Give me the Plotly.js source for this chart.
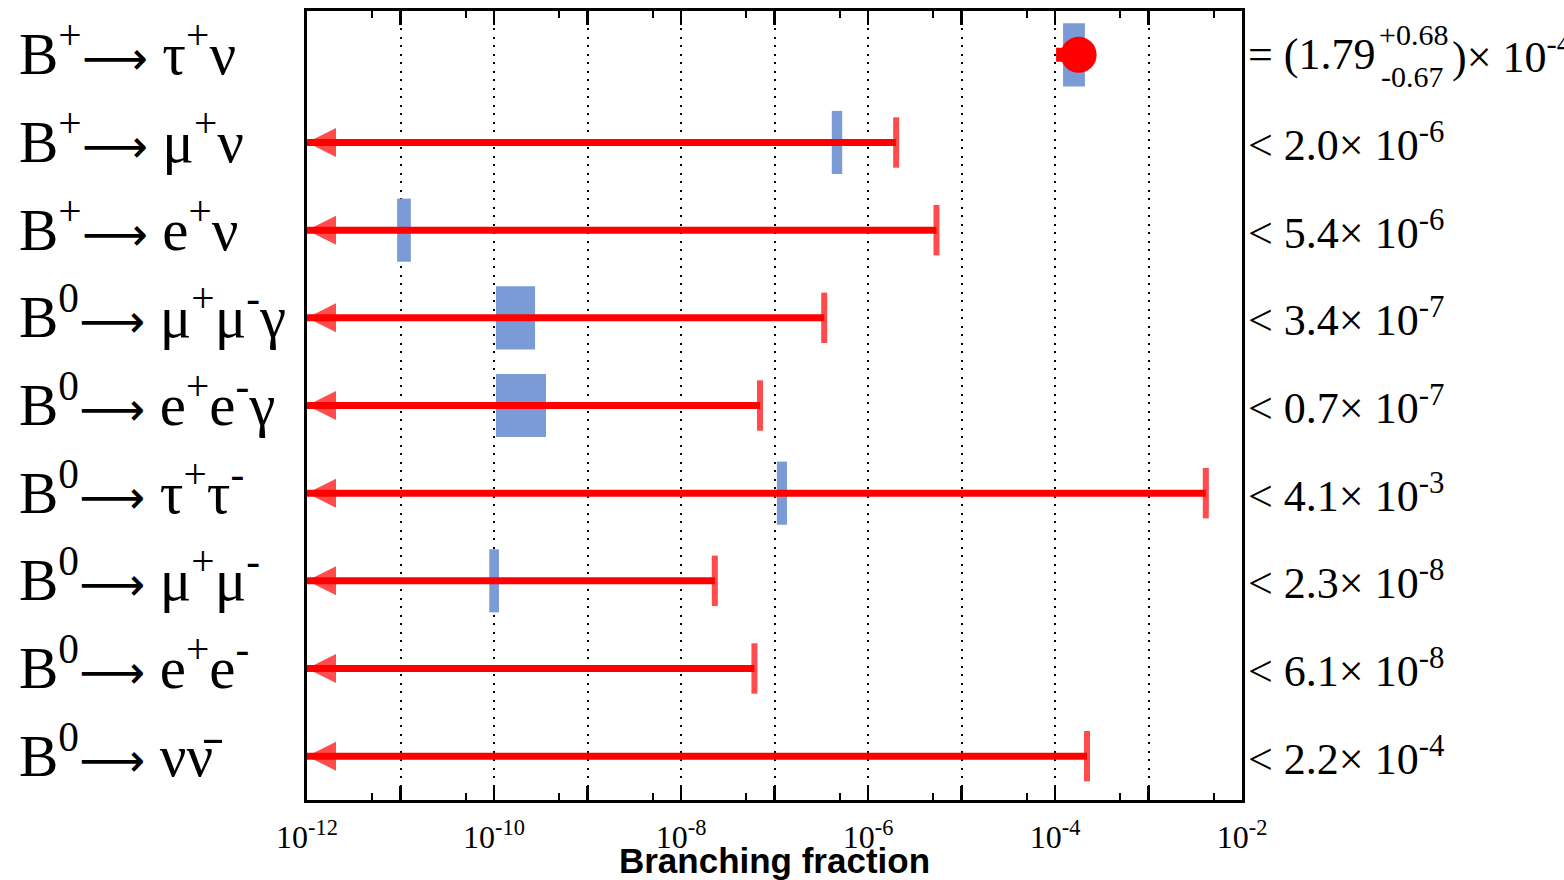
<!DOCTYPE html>
<html>
<head>
<meta charset="utf-8">
<script src="https://cdn.plot.ly/plotly-3.0.1.min.js"></script>
<style>
html,body{margin:0;padding:0;background:#fff;overflow:hidden;}
#chart{width:1564px;height:880px;}
</style>
</head>
<body>
<div id="chart"></div>
<script>
// ---- data ----
const parents = ["B<sup>+</sup>", "B<sup>+</sup>", "B<sup>+</sup>", "B<sup>0</sup>", "B<sup>0</sup>",
                 "B<sup>0</sup>", "B<sup>0</sup>", "B<sup>0</sup>", "B<sup>0</sup>"];
const products = [
  "τ<sup>+</sup>ν",
  "μ<sup>+</sup>ν",
  "e<sup>+</sup>ν",
  "μ<sup>+</sup>μ<sup>-</sup>γ",
  "e<sup>+</sup>e<sup>-</sup>γ",
  "τ<sup>+</sup>τ<sup>-</sup>",
  "μ<sup>+</sup>μ<sup>-</sup>",
  "e<sup>+</sup>e<sup>-</sup>",
  "νν\u0304"
];
// upper limits (null = measured)
const upperLimits = [null, 2.0e-6, 5.4e-6, 3.4e-7, 0.7e-7, 4.1e-3, 2.3e-8, 6.1e-8, 2.2e-4];
const limitLabels = [null,
  "< 2.0× 10<sup>-6</sup>", "< 5.4× 10<sup>-6</sup>", "< 3.4× 10<sup>-7</sup>",
  "< 0.7× 10<sup>-7</sup>", "< 4.1× 10<sup>-3</sup>", "< 2.3× 10<sup>-8</sup>",
  "< 6.1× 10<sup>-8</sup>", "< 2.2× 10<sup>-4</sup>"];
// measurement
const measValue = 1.79e-4;
const measErrPlus = 0.68e-4;
const measErrMinus = 0.67e-4;
// SM prediction ranges (blue boxes)
const smLow  = [1.22e-4, 4.1e-7, 9.2e-12, 1.05e-10, 1.05e-10, 1.06e-7, 8.9e-11, null, null];
const smHigh = [2.09e-4, 5.3e-7, 1.29e-11, 2.75e-10, 3.6e-10, 1.36e-7, 1.13e-10, null, null];
// axis ticks
const tickExps = [-12, -11, -10, -9, -8, -7, -6, -5, -4, -3, -2];
const xMin = 1e-12;

const arrowHtml = "<span style='font-family:DejaVu Sans;font-size:46px'>⟶</span>";
const decays = parents.map((p, i) => p + arrowHtml + " " + products[i]);

// ---- build traces ----
const red = "#ff0000";
const blue = "#7b9bd7";

const bx = [], bbase = [], by = [];
smLow.forEach((lo, i) => {
  if (lo !== null) { bbase.push(lo); bx.push(smHigh[i] - lo); by.push(decays[i]); }
});
const boxes = {
  type: "bar", orientation: "h", y: by, x: bx, base: bbase, width: 0.72,
  marker: {color: blue, line: {width: 0}}, hoverinfo: "skip"
};

const lx = [], ly = [], lsym = [], lsize = [], lw = [];
upperLimits.forEach((ul, i) => {
  if (ul === null) return;
  lx.push(ul, xMin, null); ly.push(decays[i], decays[i], null);
  lsym.push("line-ns", "arrow-left", "circle");
  lsize.push(36, 29, 0); lw.push(6, 0, 0);
});
const limits = {
  type: "scatter", mode: "lines+markers", x: lx, y: ly, connectgaps: false,
  line: {color: red, width: 7},
  marker: {symbol: lsym, size: lsize, color: red, line: {color: red, width: lw}},
  cliponaxis: false, hoverinfo: "skip"
};

const meas = {
  type: "scatter", mode: "markers", x: [measValue], y: [decays[0]],
  marker: {symbol: "circle", size: 36, color: red},
  error_x: {type: "data", symmetric: false, array: [measErrPlus], arrayminus: [measErrMinus],
            color: red, thickness: 7, width: 7},
  cliponaxis: false, hoverinfo: "skip"
};

// ---- annotations ----
const serif = "Liberation Serif, Times New Roman, serif";
const ann = [];
decays.forEach((d, i) => {
  ann.push({xref: "paper", yref: "y", x: 0, xshift: -290, yshift: 5, y: d, xanchor: "left", yanchor: "middle",
            text: d, showarrow: false, font: {family: serif, size: 59, color: "#000"}});
  if (limitLabels[i]) {
    ann.push({xref: "paper", yref: "y", x: 1, xshift: 4, y: d, xanchor: "left", yanchor: "middle",
              text: limitLabels[i], showarrow: false, font: {family: serif, size: 44, color: "#000"}});
  }
});
const fmt = v => (v / 1e-4).toFixed(2);
ann.push({xref: "paper", yref: "y", x: 1, xshift: 4, y: decays[0], xanchor: "left", yanchor: "middle",
          text: "= (" + fmt(measValue), showarrow: false, font: {family: serif, size: 44, color: "#000"}});
ann.push({xref: "paper", yref: "y", x: 1, xshift: 135, yshift: 20, y: decays[0], xanchor: "left", yanchor: "middle",
          text: "+" + fmt(measErrPlus), showarrow: false, font: {family: serif, size: 30, color: "#000"}});
ann.push({xref: "paper", yref: "y", x: 1, xshift: 137, yshift: -22, y: decays[0], xanchor: "left", yanchor: "middle",
          text: "-" + fmt(measErrMinus), showarrow: false, font: {family: serif, size: 30, color: "#000"}});
ann.push({xref: "paper", yref: "y", x: 1, xshift: 208, y: decays[0], xanchor: "left", yanchor: "middle",
          text: ")× 10<sup>-4</sup>", showarrow: false, font: {family: serif, size: 44, color: "#000"}});

const tickvals = tickExps.map(e => Math.pow(10, e));
const ticktext = tickExps.map(e => (e % 2 === 0) ? "10<sup>" + e + "</sup>" : "");
const minorvals = tickExps.slice(0, -1).map(e => 5 * Math.pow(10, e));

const layout = {
  width: 1564, height: 880,
  margin: {l: 307, r: 322, t: 11, b: 80, pad: 0},
  paper_bgcolor: "#fff", plot_bgcolor: "#fff",
  showlegend: false, hovermode: false, barmode: "overlay",
  xaxis: {
    type: "log", range: [-12, -2],
    tickmode: "array", tickvals: tickvals, ticktext: ticktext,
    ticks: "inside", ticklen: 14, tickwidth: 2.5, tickcolor: "#000",
    ticklabelstandoff: 7,
    minor: {tickvals: minorvals, ticks: "inside", ticklen: 7, tickwidth: 2, tickcolor: "#000", showgrid: false},
    showgrid: true, gridcolor: "#000", gridwidth: 2, griddash: "2px,6.5px",
    showline: true, linecolor: "#000", linewidth: 3, mirror: "ticks",
    tickfont: {family: serif, size: 32, color: "#000"},
    title: {text: "Branching fraction", standoff: 2,
            font: {family: "Liberation Sans, Arial, sans-serif", size: 35, color: "#000", weight: "bold"}},
    zeroline: false
  },
  yaxis: {
    type: "category", categoryorder: "array", categoryarray: decays,
    range: [8.5, -0.5], showticklabels: false, ticks: "",
    showgrid: false, zeroline: false,
    showline: true, linecolor: "#000", linewidth: 3, mirror: true
  },
  annotations: ann
};

Plotly.newPlot("chart", [boxes, limits, meas], layout, {displayModeBar: false, staticPlot: true});
</script>
</body>
</html>
